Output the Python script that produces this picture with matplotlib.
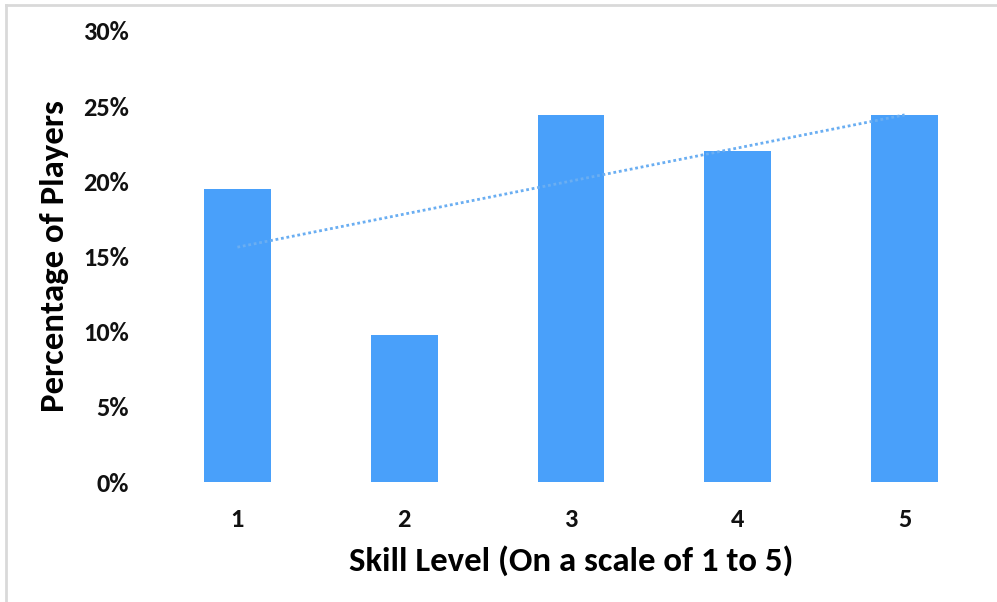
import numpy as np
import matplotlib
matplotlib.use('Agg')
import matplotlib.pyplot as plt
from matplotlib.lines import Line2D
from matplotlib.ticker import PercentFormatter

plt.rcParams['font.family'] = ['Carlito', 'Liberation Sans Narrow', 'DejaVu Sans']
plt.rcParams['font.weight'] = 'bold'

skill_levels = [1, 2, 3, 4, 5]
pct_players = [19.5, 9.8, 24.4, 22.0, 24.4]
y_ticks = [0, 5, 10, 15, 20, 25, 30]

bar_color = '#49A0FA'
trend_color = '#6AAEF2'

fig = plt.figure(figsize=(9.97, 6.02), dpi=100)
ax = fig.add_axes([154 / 997, 1 - 482 / 602, (988 - 154) / 997, (482 - 31) / 602])

ax.bar(skill_levels, pct_players, width=0.4, color=bar_color, zorder=2)

# linear trendline like excel
slope, intercept = np.polyfit(skill_levels, pct_players, 1)
xs = np.array([skill_levels[0], skill_levels[-1]])
ax.plot(xs, slope * xs + intercept, color=trend_color, linestyle=(0, (1, 1)), linewidth=2, zorder=3)

ax.set_xlim(0.5, 5.5)
ax.set_ylim(0, 30)
ax.set_yticks(y_ticks)
ax.yaxis.set_major_formatter(PercentFormatter(decimals=0))
ax.set_xticks(skill_levels)
ax.tick_params(axis='both', length=0, labelsize=19, colors='#111111')
ax.tick_params(axis='y', pad=18)
ax.tick_params(axis='x', pad=19)
for s in ax.spines.values():
    s.set_visible(False)

ax.set_xlabel('Skill Level (On a scale of 1 to 5)', fontsize=25, fontweight='bold', labelpad=10, color='#000000')
ax.set_ylabel('Percentage of Players', fontsize=25, fontweight='bold', labelpad=10, color='#000000')

# light frame around the picture
fig.add_artist(Line2D([6 / 997, 1], [1 - 5 / 602, 1 - 5 / 602], color='#D9D9D9', linewidth=2))
fig.add_artist(Line2D([6 / 997, 6 / 997], [0, 1 - 5 / 602], color='#D9D9D9', linewidth=2))

fig.savefig('out.png', dpi=100)
